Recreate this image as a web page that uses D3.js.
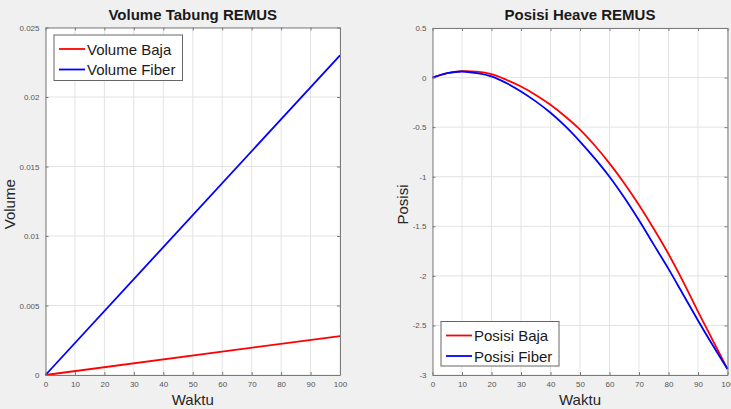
<!DOCTYPE html>
<html>
<head>
<meta charset="utf-8">
<script src="https://cdn.jsdelivr.net/npm/d3@7"></script>
<style>
  html, body { margin: 0; padding: 0; background: #f0f0f0; }
  svg { display: block; font-family: "Liberation Sans", Arial, sans-serif; }
</style>
</head>
<body>
<div id="chart"></div>
<script>
// data
const waktuTicks = [0, 10, 20, 30, 40, 50, 60, 70, 80, 90, 100];
const volumeTicks = [0, 0.005, 0.01, 0.015, 0.02, 0.025];
const posisiTicks = [0.5, 0, -0.5, -1, -1.5, -2, -2.5, -3];

const tVolume = [0, 100];
const volumeBaja = [0, 0.0028];
const volumeFiber = [0, 0.023];

const tPosisi = [0, 5, 10, 15, 20, 25, 30, 35, 40, 45, 50, 55, 60, 65, 70, 75, 80, 85, 90, 95, 100];
const posisiBaja = [0, 0.045, 0.065, 0.060, 0.034, -0.022, -0.09, -0.175, -0.275, -0.393, -0.525, -0.685, -0.865, -1.065, -1.285, -1.525, -1.78, -2.06, -2.36, -2.65, -2.94];
const posisiFiber = [0, 0.045, 0.061, 0.045, 0.012, -0.055, -0.14, -0.24, -0.355, -0.49, -0.645, -0.815, -1.0, -1.21, -1.44, -1.685, -1.93, -2.19, -2.45, -2.70, -2.94];

const W = 731, H = 409;
const svg = d3.select('#chart').append('svg')
  .attr('width', W)
  .attr('height', H);

svg.append('rect').attr('width', W).attr('height', H).attr('fill', '#f0f0f0');

function drawPanel(opt) {
  const x = d3.scaleLinear().domain([0, 100]).range([opt.left, opt.right]);
  const y = d3.scaleLinear().domain(opt.yDomain).range([opt.bottom, opt.top]);
  const g = svg.append('g');

  g.append('rect')
    .attr('x', opt.left).attr('y', opt.top)
    .attr('width', opt.right - opt.left).attr('height', opt.bottom - opt.top)
    .attr('fill', '#fff');

  // grid
  g.selectAll('.gx').data(waktuTicks).enter().append('line')
    .attr('x1', d => x(d)).attr('x2', d => x(d))
    .attr('y1', opt.top).attr('y2', opt.bottom)
    .attr('stroke', '#e3e3e3').attr('stroke-width', 1);
  g.selectAll('.gy').data(opt.yTicks).enter().append('line')
    .attr('y1', d => y(d)).attr('y2', d => y(d))
    .attr('x1', opt.left).attr('x2', opt.right)
    .attr('stroke', '#e3e3e3').attr('stroke-width', 1);

  // lines
  const line = d3.line()
    .x(d => x(d[0]))
    .y(d => y(d[1]))
    .curve(d3.curveCatmullRom.alpha(0.5));
  opt.series.forEach(s => {
    g.append('path')
      .datum(s.t.map((t, i) => [t, s.v[i]]))
      .attr('fill', 'none')
      .attr('stroke', s.color)
      .attr('stroke-width', 1.8)
      .attr('d', line);
  });

  // axes with inward ticks
  const axisColor = '#7a7a7a';
  const fmt = d => String(d);
  const bottom = g.append('g').attr('transform', `translate(0,${opt.bottom})`)
    .call(d3.axisBottom(x).tickValues(waktuTicks).tickFormat(fmt).tickSizeInner(-3).tickSizeOuter(0).tickPadding(6));
  const top = g.append('g').attr('transform', `translate(0,${opt.top})`)
    .call(d3.axisTop(x).tickValues(waktuTicks).tickFormat('').tickSizeInner(-3).tickSizeOuter(0));
  const left = g.append('g').attr('transform', `translate(${opt.left},0)`)
    .call(d3.axisLeft(y).tickValues(opt.yTicks).tickFormat(fmt).tickSizeInner(-3).tickSizeOuter(0).tickPadding(6));
  const right = g.append('g').attr('transform', `translate(${opt.right},0)`)
    .call(d3.axisRight(y).tickValues(opt.yTicks).tickFormat('').tickSizeInner(-3).tickSizeOuter(0));
  [bottom, top, left, right].forEach(a => {
    a.select('.domain').attr('stroke', axisColor);
    a.selectAll('.tick line').attr('stroke', axisColor);
    a.selectAll('text')
      .attr('fill', '#555')
      .style('font-size', '8px')
      .style('font-family', '"Liberation Sans", Arial, sans-serif');
  });

  // title and labels
  const cx = (opt.left + opt.right) / 2;
  g.append('text')
    .attr('x', cx).attr('y', 20)
    .attr('text-anchor', 'middle')
    .style('font-size', '15px').style('font-weight', 'bold')
    .attr('fill', '#1a1a1a')
    .text(opt.title);
  g.append('text')
    .attr('x', cx).attr('y', 405)
    .attr('text-anchor', 'middle')
    .style('font-size', '15px')
    .attr('fill', '#262626')
    .text('Waktu');
  g.append('text')
    .attr('transform', `translate(${opt.yLabelX},${(opt.top + opt.bottom) / 2 + 3}) rotate(-90)`)
    .attr('text-anchor', 'middle')
    .style('font-size', '15px')
    .attr('fill', '#262626')
    .text(opt.yLabel);

  // legend
  const lg = g.append('g');
  lg.append('rect')
    .attr('x', opt.legend.x).attr('y', opt.legend.y)
    .attr('width', opt.legend.w).attr('height', opt.legend.h)
    .attr('fill', '#fff').attr('stroke', '#666').attr('stroke-width', 1);
  opt.series.forEach((s, i) => {
    const ry = opt.legend.y + 14 + i * 20.5;
    lg.append('line')
      .attr('x1', opt.legend.x + 5).attr('x2', opt.legend.x + 31)
      .attr('y1', ry).attr('y2', ry)
      .attr('stroke', s.color).attr('stroke-width', 1.8);
    lg.append('text')
      .attr('x', opt.legend.x + 33).attr('y', ry + 5.5)
      .style('font-size', '15px')
      .attr('fill', '#1a1a1a')
      .text(s.name);
  });
}

drawPanel({
  left: 45.5, right: 340, top: 27.5, bottom: 375,
  yDomain: [0, 0.025], yTicks: volumeTicks,
  title: 'Volume Tabung REMUS', yLabel: 'Volume', yLabelX: 15,
  legend: { x: 54, y: 35, w: 128.5, h: 45.5 },
  series: [
    { name: 'Volume Baja', color: '#ff0000', t: tVolume, v: volumeBaja },
    { name: 'Volume Fiber', color: '#0000ff', t: tVolume, v: volumeFiber }
  ]
});

drawPanel({
  left: 432.5, right: 727.5, top: 28, bottom: 375,
  yDomain: [-3, 0.5], yTicks: posisiTicks,
  title: 'Posisi Heave REMUS', yLabel: 'Posisi', yLabelX: 408,
  legend: { x: 441, y: 321.5, w: 118, h: 44.5 },
  series: [
    { name: 'Posisi Baja', color: '#ff0000', t: tPosisi, v: posisiBaja },
    { name: 'Posisi Fiber', color: '#0000ff', t: tPosisi, v: posisiFiber }
  ]
});
</script>
</body>
</html>
